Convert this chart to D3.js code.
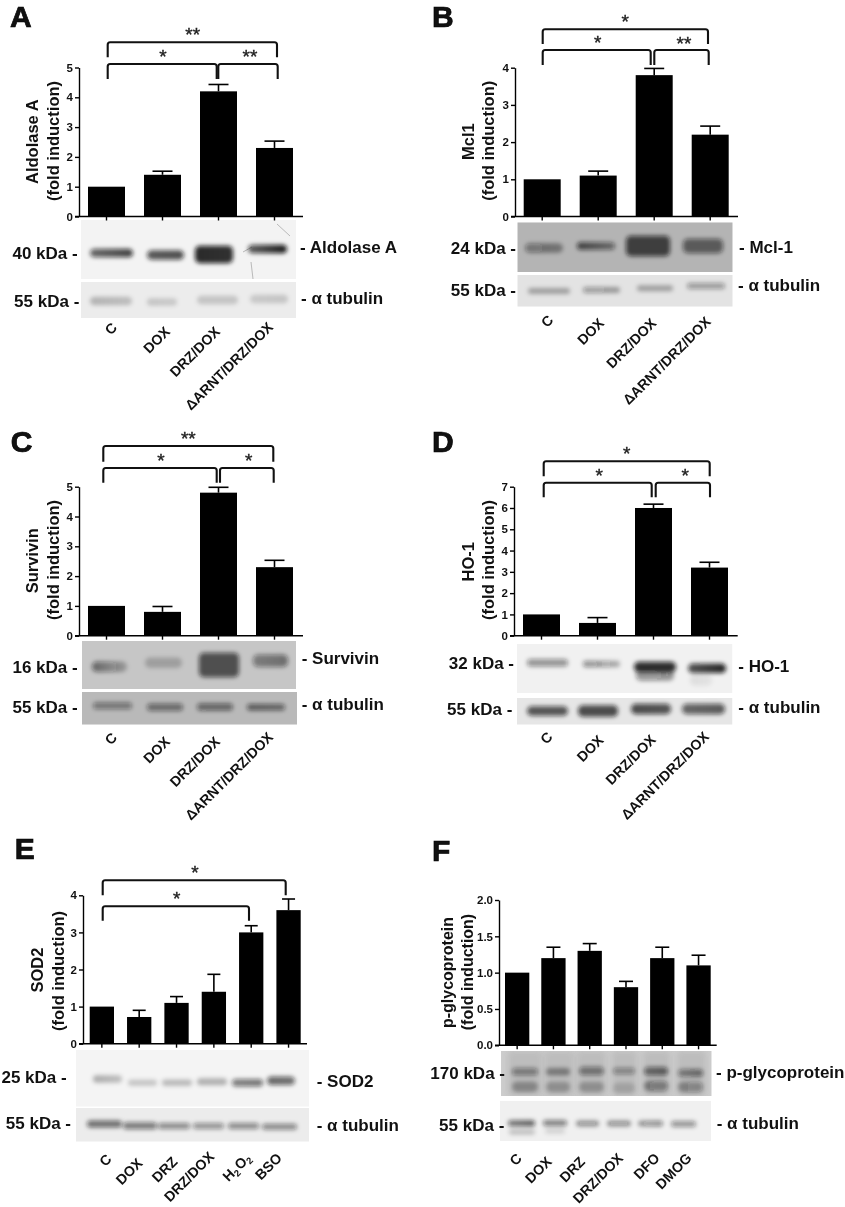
<!DOCTYPE html>
<html><head><meta charset="utf-8">
<style>
html,body{margin:0;padding:0;background:#fff}
svg{display:block;filter:blur(.35px)}
text{font-family:"Liberation Sans",Arial,sans-serif;font-weight:700;fill:#111}
.star{font-weight:400;fill:#222}
</style>
<script src="https://cdn.jsdelivr.net/npm/d3@7"></script>
</head><body><svg id="c" width="845" height="1207"></svg>
<script>
// ---------- data ----------
const catsABCD = ["C","DOX","DRZ/DOX","ΔARNT/DRZ/DOX"];
const catsE = ["C","DOX","DRZ","DRZ/DOX","H2O2","BSO"];
const catsF = ["C","DOX","DRZ","DRZ/DOX","DFO","DMOG"];

const valuesA = [1,1.4,4.2,2.3];
const errTopA = [1,1.52,4.43,2.53];
const valuesB = [1,1.1,3.8,2.2];
const errTopB = [1,1.22,3.98,2.43];
const valuesC = [1,0.8,4.8,2.3];
const errTopC = [1,0.98,4.98,2.53];
const valuesD = [1,0.6,6,3.2];
const errTopD = [1,0.85,6.18,3.45];
const valuesE = [1,0.72,1.1,1.4,3,3.6];
const errTopE = [1,0.9,1.27,1.87,3.18,3.9];
const valuesF = [1,1.2,1.3,0.8,1.2,1.1];
const errTopF = [1,1.35,1.4,0.88,1.35,1.24];

const ticksA = [0,1,2,3,4,5];
const ticksB = [0,1,2,3,4];
const ticksD = [0,1,2,3,4,5,6,7];
const ticksF = [0,0.5,1,1.5,2];

const starsA = ["**","*","**"];
const starsB = ["*","*","**"];
const starsC = ["**","*","*"];
const starsD = ["*","*","*"];
const starsE = ["*","*"];

// band darkness per lane [left, right]
const bandAldolase = [[.62,.78],[.68,.72],[.88,.85],[.65,.95]];
const bandTubA = [[.24,.2],[.17,.15],[.17,.17],[.15,.17]];
const bandMcl = [[.42,.36],[.72,.48],[.72,.72],[.56,.56]];
const bandTubB = [[.3,.3],[.36,.32],[.3,.3],[.36,.36]];
const bandSurvivin = [[.55,.22],[.2,.2],[.66,.66],[.42,.5]];
const bandTubC = [[.42,.42],[.48,.48],[.5,.5],[.58,.52]];
const bandHO = [[.42,.42],[.45,.28],[.85,.85],[.7,.9]];
const bandHOlow = [[0,0],[0,0],[.42,.38],[.08,.06]];
const bandTubD = [[.68,.68],[.72,.72],[.72,.68],[.6,.66]];
const bandSOD = [[.3,.22],[.2,.2],[.24,.24],[.28,.28],[.52,.56],[.62,.58]];
const bandTubE = [[.58,.58],[.52,.52],[.46,.46],[.42,.42],[.46,.46],[.46,.46]];
const bandPgp = [[.42,.42],[.36,.38],[.46,.46],[.36,.36],[.52,.6],[.42,.55]];
const bandPgpLow = [[.3,.3],[.25,.25],[.25,.25],[.15,.15],[.38,.42],[.32,.36]];
const bandTubF = [[.55,.68],[.5,.5],[.4,.4],[.4,.4],[.36,.45],[.42,.42]];
const bandTubFLow = [[.2,.2],[.12,.12],[0,0],[0,0],[0,0],[0,0]];

// ---------- layout ----------
const panels = [
 {letter:"A",lx:10,ly:27.3,cats:catsABCD,vals:valuesA,tops:errTopA,ticks:ticksA,axisX:79,y0:216.5,y1:67.5,dMax:5,barL:88,barR:293,barW:37,axisEnd:303,cap:20,
  title:"Aldolase A",tx:[38,59],tc:[141.7,141],tsize:16.5,
  br:[[107.7,277,42.3,57.3,57.3],[107.7,216.7,64,79,79],[218.3,277.7,64,79,79]],
  stars:starsA,sp:[[192.7,30],[163,52],[250,52]],
  lab:[[11.5,8.5,2.5,-.5],[328.5,332.6,332.6,328]],
  left:[["40 kDa -",77.7,253],["55 kDa -",79.3,301]],right:[["- Aldolase A",300,246.7],["- α tubulin",301,298]],
  blots:[{x:81,y:220,w:215,h:59,bg:"#f3f3f3",scratch:["M243,252 L252,247","M251,262 L253,279","M277,224 L290,236"],b:[[bandAldolase,[[90,133,253,6],[147,184,255,7],[195,233,254.5,15],[248,287,249,6]]]]},
         {x:81,y:282,w:215,h:36,bg:"#ececec",b:[[bandTubA,[[90,132,301,6],[147,177,302,5],[197,238,300,6],[250,288,299,6]]]]}]},
 {letter:"B",lx:432,ly:27.3,cats:catsABCD,vals:valuesB,tops:errTopB,ticks:ticksB,axisX:515,y0:216.5,y1:67.7,dMax:4,barL:523.7,barR:728.7,barW:37,axisEnd:738,cap:20,
  title:"Mcl1",tx:[474,494],tc:[141.7,140.8],tsize:16.5,
  br:[[542.7,708,29.3,44,44],[542.7,650.7,50,65,65],[654.3,708.7,50,65,65]],
  stars:starsB,sp:[[625.3,17],[597.7,38],[684,39]],
  lab:[[12,6.8,3.1,1.5],[321,324,324,322.6]],
  left:[["24 kDa -",516,248],["55 kDa -",516,290]],right:[["- Mcl-1",739,247],["- α tubulin",738,285]],
  blots:[{x:517.3,y:222.3,w:215.4,h:49.7,bg:"#b4b4b4",b:[[bandMcl,[[525,563,248,7],[577,615,246,5],[626,670,246,18],[683,723,246,12]]]]},
         {x:517.3,y:275,w:215.4,h:31.7,bg:"#e3e3e3",b:[[bandTubB,[[528,570,291,3.5],[583,620,290,3.5],[637,673,288.3,3.5],[687,725,286,3.5]]]]}]},
 {letter:"C",lx:10.7,ly:451.7,cats:catsABCD,vals:valuesC,tops:errTopC,ticks:ticksA,axisX:79,y0:635.7,y1:486.7,dMax:5,barL:88,barR:293,barW:37,axisEnd:303,cap:20,
  title:"Survivin",tx:[38,59],tc:[560.8,560],tsize:16.5,
  br:[[103.3,273.3,446,461.7,461.7],[103.3,216.7,468,482.7,482.7],[220,273.7,468,482.7,482.7]],
  stars:starsC,sp:[[188.3,434],[161,456],[248.7,456]],
  lab:[[11.5,8.5,2.5,-.5],[738.5,742.6,742.6,738]],
  left:[["16 kDa -",77.7,666.7],["55 kDa -",77.7,706.7]],right:[["- Survivin",301.7,657.7],["- α tubulin",301.7,704.3]],
  blots:[{x:82,y:641,w:214,h:48,bg:"#c6c6c6",b:[[bandSurvivin,[[92,127,666.7,8],[145,182,662.7,8],[199,239,665,22],[253,288,660.7,10]]]]},
         {x:82,y:692,w:215,h:32.7,bg:"#b9b9b9",b:[[bandTubC,[[93,132,705.7,4.5],[147,183,707.3,5],[197,233,707,5],[247,285,707.3,4]]]]}]},
 {letter:"D",lx:432,ly:451.7,cats:catsABCD,vals:valuesD,tops:errTopD,ticks:ticksD,axisX:514,y0:635.7,y1:486.7,dMax:7,barL:523,barR:728,barW:37,axisEnd:737.7,cap:20,
  title:"HO-1",tx:[473.5,494],tc:[561.7,560],tsize:16.5,
  br:[[543.7,709.7,461.3,476.3,476.3],[543.7,651.7,482.7,497.3,497.3],[655.7,710,482.7,497.3,497.3]],
  stars:starsD,sp:[[626.7,449],[599.3,470.7],[685.3,470.7]],
  lab:[[12,7,3.2,.5],[737.7,741,740.6,737.6]],
  left:[["32 kDa -",514,662.7],["55 kDa -",512.3,709]],right:[["- HO-1",738.3,666],["- α tubulin",738.3,707.3]],
  blots:[{x:517,y:644,w:215.5,h:49,bg:"#f1f1f1",b:[[bandHO,[[527,568,662.7,5],[583,620,664,4],[634,676,667,8],[688,726,668.3,7]]],[bandHOlow,[[527,568,675,6],[583,620,675,6],[636,674,675,9],[690,712,680,9]]]]},
         {x:517,y:698,w:215.5,h:26.7,bg:"#e6e6e6",b:[[bandTubD,[[527,568,711,7],[578,618,711,9],[631,671,709,8],[682,725,709,8]]]]}]},
 {letter:"E",lx:14.7,ly:859.3,cats:catsE,vals:valuesE,tops:errTopE,ticks:ticksB,axisX:83,y0:1043.7,y1:895.3,dMax:4,barL:89.7,barR:300.7,barW:24.3,axisEnd:307,cap:13,
  title:"SOD2",tx:[42.5,63.5],tc:[970,971],tsize:16.5,
  br:[[102.7,285.7,880.3,895.3,895.3],[102.7,249,906.3,920.7,920.7]],
  stars:starsE,sp:[[195,868.3],[176.7,894]],
  lab:[[10.7,4.2,1.8,1.2,.5,-5.8],[1160,1164,1162.6,1157.6,1159,1159]],
  left:[["25 kDa -",66.7,1076.7],["55 kDa -",71,1122.7]],right:[["- SOD2",316.7,1081],["- α tubulin",316.7,1125]],
  blots:[{x:76,y:1050,w:233,h:56.7,bg:"#f4f4f4",b:[[bandSOD,[[93,122,1079,5],[128,157,1082.7,3.5],[162,192,1082.7,4],[197,227,1081.7,4.5],[232,263,1082.7,5],[267,295,1080.7,6]]]]},
         {x:76,y:1108,w:233,h:33.7,bg:"#ececec",b:[[bandTubE,[[87,122,1124,4.5],[123,157,1125.7,4.5],[158,190,1126,3.5],[193,224,1126,3.5],[228,259,1126,3.5],[262,297,1126.7,3.5]]]]}]},
 {letter:"F",lx:432,ly:860.7,cats:catsF,vals:valuesF,tops:errTopF,ticks:ticksF,axisX:499,y0:1045.3,y1:900,dMax:2,barL:505,barR:710.7,barW:24.3,axisEnd:716.7,cap:14,fmt:".1f",
  title:"p-glycoprotein",tx:[453,472.5],tc:[972.5,972],tsize:16,
  lab:[[5.5,-.7,-3.7,-2,-1.6,-5.9],[1159.3,1162.6,1162.6,1159,1159,1159]],
  left:[["170 kDa -",505,1073.3],["55 kDa -",504.3,1125]],right:[["- p-glycoprotein",716,1072.3],["- α tubulin",716.7,1123.3]],
  blots:[{x:501,y:1051,w:210.7,h:45,bg:"#cdcdcd",smear:[[508,542],[545,574],[577,606],[612,637],[643,670],[677,706]],
          b:[[bandPgp,[[512,538,1071.7,5],[546,570,1071.7,5],[579,604,1071,6],[613,635,1071,4],[644,668,1071.3,6],[678,703,1073,5]]],
             [bandPgpLow,[[512,538,1086.7,8],[546,570,1087,8],[579,604,1087,8],[613,635,1088,8],[644,668,1086,8],[678,703,1087,8]]]]},
         {x:500,y:1100.7,w:211,h:40.3,bg:"#f0f0f0",b:[[bandTubF,[[508,535,1123.3,3.5],[543,567,1123,3.5],[576,599,1123.5,3.5],[607,631,1123.5,3.5],[638,663,1123.5,3.5],[671,696,1124,3.5]]],
             [bandTubFLow,[[509,535,1132,3],[545,565,1131,3],[0,0,0,0],[0,0,0,0],[0,0,0,0],[0,0,0,0]]]]}]}
];

// ---------- drawing ----------
const svg = d3.select("#c");
const defs = svg.append("defs");
defs.append("filter").attr("id","blur").attr("x","-30%").attr("y","-150%").attr("width","160%").attr("height","400%")
    .append("feGaussianBlur").attr("stdDeviation",1.9);
defs.append("filter").attr("id","blurS").attr("x","-30%").attr("y","-30%").attr("width","160%").attr("height","160%")
    .append("feGaussianBlur").attr("stdDeviation",3);
let gid = 0;

panels.forEach(p=>{
  const g = svg.append("g");
  p.blots.forEach(bl=>{
    const clip = "clip"+(gid++);
    defs.append("clipPath").attr("id",clip).append("rect").attr("x",bl.x).attr("y",bl.y).attr("width",bl.w).attr("height",bl.h);
    const bg = g.append("g").attr("clip-path",`url(#${clip})`);
    bg.append("rect").attr("x",bl.x).attr("y",bl.y).attr("width",bl.w).attr("height",bl.h).attr("fill",bl.bg);
    (bl.smear||[]).forEach(s=>bg.append("rect").attr("x",s[0]).attr("y",bl.y).attr("width",s[1]-s[0]).attr("height",bl.h)
        .attr("fill","#777").attr("opacity",.18).attr("filter","url(#blurS)"));
    (bl.scratch||[]).forEach(s=>bg.append("path").attr("d",s).attr("fill","none").attr("stroke","#aaa").attr("stroke-width",.8));
    bl.b.forEach(([dark,geo])=>{
      geo.forEach((q,i)=>{
        const [l,r]=dark[i];
        if(!(l>0||r>0)||q[1]<=q[0]) return;
        const id="g"+(gid++);
        const lg=defs.append("linearGradient").attr("id",id);
        lg.append("stop").attr("offset","0%").attr("stop-color","#111").attr("stop-opacity",l);
        lg.append("stop").attr("offset","100%").attr("stop-color","#111").attr("stop-opacity",r);
        const h=q[3]+2.5;
        bg.append("rect").attr("x",q[0]).attr("y",q[2]-h/2).attr("width",q[1]-q[0]).attr("height",h)
          .attr("rx",Math.min(h/2,5)).attr("fill",`url(#${id})`).attr("filter","url(#blur)");
      });
    });
  });

  const n=p.cats.length, span=p.barR-p.barL;
  const step=(span-p.barW)/(n-1);
  const x=d3.scaleBand().domain(p.cats).range([p.barL,p.barR]).paddingInner(1-p.barW/step).paddingOuter(0);
  const y=d3.scaleLinear().domain([0,p.dMax]).range([p.y0,p.y1]);

  g.selectAll(".bar").data(p.vals).join("rect").attr("x",(d,i)=>x(p.cats[i])).attr("width",x.bandwidth())
    .attr("y",d=>y(d)).attr("height",d=>p.y0-y(d)).attr("fill","#000");
  const cx=i=>x(p.cats[i])+x.bandwidth()/2;
  p.tops.forEach((t,i)=>{
    if(t<=p.vals[i]) return;
    g.append("line").attr("x1",cx(i)).attr("x2",cx(i)).attr("y1",y(p.vals[i])).attr("y2",y(t)).attr("stroke","#000").attr("stroke-width",1.6);
    g.append("line").attr("x1",cx(i)-p.cap/2).attr("x2",cx(i)+p.cap/2).attr("y1",y(t)).attr("y2",y(t)).attr("stroke","#000").attr("stroke-width",1.6);
  });

  const fmt=p.fmt?d3.format(p.fmt):d3.format("d");
  const ya=g.append("g").attr("transform",`translate(${p.axisX},0)`)
    .call(d3.axisLeft(y).tickValues(p.ticks).tickFormat(fmt).tickSize(4).tickSizeOuter(0).tickPadding(2));
  ya.selectAll("line,path").attr("stroke","#000").attr("stroke-width",1.4);
  ya.selectAll("text").style("font-size","11.5px").style("font-family",'"Liberation Sans"').style("font-weight",700).attr("fill","#111");
  const xa=g.append("g").attr("transform",`translate(0,${p.y0})`)
    .call(d3.axisBottom(x).tickSize(4).tickSizeOuter(0).tickFormat(""));
  xa.select(".domain").remove();
  xa.selectAll("line").attr("stroke","#000").attr("stroke-width",1.4);
  g.append("line").attr("x1",p.axisX-4).attr("x2",p.axisEnd).attr("y1",p.y0).attr("y2",p.y0).attr("stroke","#000").attr("stroke-width",1.4);

  [p.title,"(fold induction)"].forEach((t,i)=>{
    g.append("text").attr("transform",`translate(${p.tx[i]},${p.tc[i]}) rotate(-90)`).attr("text-anchor","middle")
      .style("font-size",p.tsize+"px").text(t);
  });

  g.append("text").attr("x",p.lx).attr("y",p.ly).style("font-size","30px").attr("fill","#000")
    .attr("stroke","#000").attr("stroke-width",.7).text(p.letter);

  (p.br||[]).forEach(b=>{
    const [x0,x1,yt,yl,yr]=b, r=2.5;
    g.append("path").attr("d",`M${x0},${yl}V${yt+r}Q${x0},${yt} ${x0+r},${yt}H${x1-r}Q${x1},${yt} ${x1},${yt+r}V${yr}`)
      .attr("fill","none").attr("stroke","#111").attr("stroke-width",2.1);
  });
  (p.stars||[]).forEach((s,i)=>{
    g.append("text").attr("class","star").attr("x",p.sp[i][0]).attr("y",p.sp[i][1]+11).attr("text-anchor","middle")
      .attr("stroke","#222").attr("stroke-width",.4).style("font-size","19px").text(s);
  });

  p.left.forEach(l=>g.append("text").attr("x",l[1]).attr("y",l[2]+6).attr("text-anchor","end").style("font-size","17px").text(l[0]));
  p.right.forEach(l=>g.append("text").attr("x",l[1]).attr("y",l[2]+6).style("font-size","17px").text(l[0]));

  p.cats.forEach((c,i)=>{
    const t=g.append("text").attr("text-anchor","end").style("font-size","14.2px")
      .attr("transform",`translate(${cx(i)+p.lab[0][i]},${p.lab[1][i]}) rotate(-45)`);
    if(c==="H2O2"){
      t.append("tspan").text("H");
      t.append("tspan").attr("dy",3).style("font-size","9.5px").text("2");
      t.append("tspan").attr("dy",-3).attr("dx",1).text("O");
      t.append("tspan").attr("dy",3).style("font-size","9.5px").text("2");
    } else t.text(c);
  });
});
</script></body></html>
